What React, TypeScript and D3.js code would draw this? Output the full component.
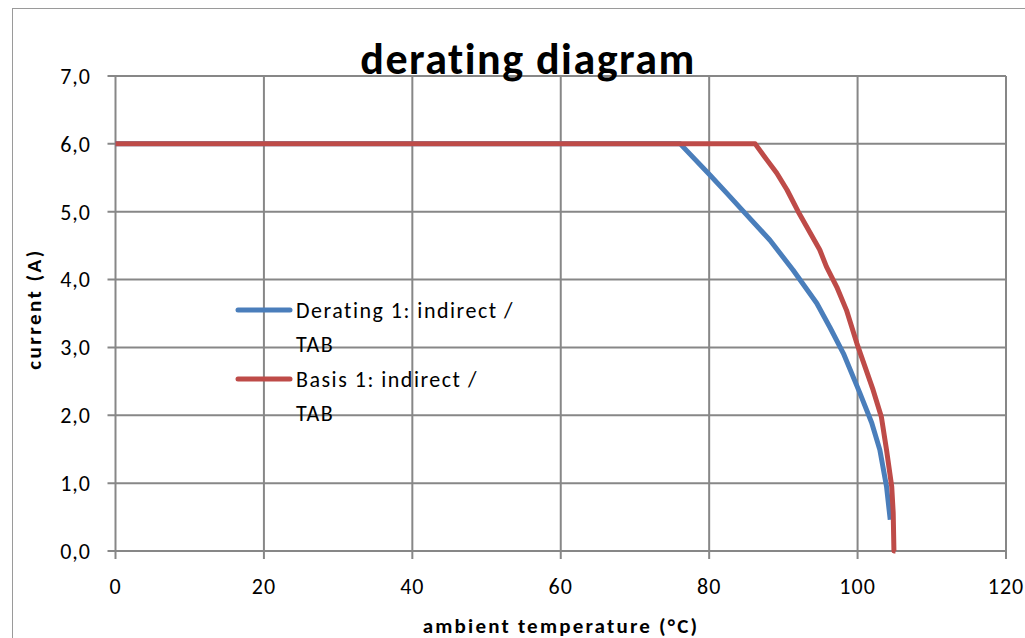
import { useEffect, useRef } from 'react';
import * as d3 from 'd3';

// Derating 1: indirect / TAB  (temperature °C, current A)
const deratingTemp = [0, 76.1, 80.1, 82.4, 84.4, 88.2, 91.3, 94.5, 96.3, 98.1, 100.3, 101.9, 103.0, 103.9, 104.4];
const deratingCurrent = [6.0, 6.0, 5.54, 5.27, 5.03, 4.58, 4.14, 3.65, 3.29, 2.91, 2.33, 1.89, 1.49, 0.95, 0.46];

// Basis 1: indirect / TAB
const basisTemp = [0, 86.2, 87.8, 89.1, 90.5, 92.0, 94.9, 95.8, 97.2, 98.5, 99.9, 102.1, 103.2, 103.9, 104.6, 104.8, 104.9, 105.1];
const basisCurrent = [6.0, 6.0, 5.76, 5.57, 5.32, 5.0, 4.44, 4.19, 3.89, 3.55, 3.06, 2.37, 1.98, 1.49, 0.95, 0.56, 0.0, 0.0];

const xTicks = [0, 20, 40, 60, 80, 100, 120];
const yTicks = [0, 1, 2, 3, 4, 5, 6, 7];

const seriesNames = ['Derating 1: indirect /', 'Basis 1: indirect /'];
const seriesColors = ['#4a7ebb', '#be4b48'];

const App = () => {
  const svgRef = useRef<SVGSVGElement>(null);

  useEffect(() => {
    if (!svgRef.current) return;
    const svg = d3.select(svgRef.current);
    svg.selectAll('*').remove();

    const width = 1025;
    const height = 638;
    const font = "Carlito, 'Open Sans', 'Liberation Sans', sans-serif";

    const x = d3.scaleLinear().domain([0, 120]).range([115.5, 1006]);
    const y = d3.scaleLinear().domain([0, 7]).range([551, 76]);

    svg.attr('width', width).attr('height', height);

    svg.append('rect').attr('width', width).attr('height', height).attr('fill', '#fff');

    // chart frame
    svg.append('rect')
      .attr('x', 12.5).attr('y', 8.5)
      .attr('width', 1030).attr('height', 650)
      .attr('fill', 'none').attr('stroke', '#9a9a9a').attr('stroke-width', 1);

    const gridColor = '#878787';

    // horizontal grid + ticks
    svg.append('g').selectAll('line')
      .data(yTicks)
      .join('line')
      .attr('x1', x(0) - 8).attr('x2', x(120))
      .attr('y1', d => y(d)).attr('y2', d => y(d))
      .attr('stroke', gridColor).attr('stroke-width', 2);

    // vertical grid + ticks
    svg.append('g').selectAll('line')
      .data(xTicks)
      .join('line')
      .attr('x1', d => x(d)).attr('x2', d => x(d))
      .attr('y1', y(7)).attr('y2', y(0) + 8)
      .attr('stroke', gridColor).attr('stroke-width', 2);

    // y tick labels
    svg.append('g').selectAll('text')
      .data(yTicks)
      .join('text')
      .attr('x', 91).attr('y', d => y(d))
      .attr('dy', '0.36em')
      .attr('text-anchor', 'end')
      .attr('font-family', font).attr('font-size', 22).attr('letter-spacing', 1)
      .text(d => d3.format('.1f')(d).replace('.', ','));

    // x tick labels
    svg.append('g').selectAll('text')
      .data(xTicks)
      .join('text')
      .attr('x', d => x(d)).attr('y', 594)
      .attr('text-anchor', 'middle')
      .attr('font-family', font).attr('font-size', 22).attr('letter-spacing', 1)
      .text(d => String(d));

    // lines
    const line = d3.line<[number, number]>()
      .x(d => x(d[0]))
      .y(d => y(d[1]));

    const series: [number, number][][] = [
      deratingTemp.map((t, i) => [t, deratingCurrent[i]]),
      basisTemp.map((t, i) => [t, basisCurrent[i]]),
    ];

    series.forEach((pts, i) => {
      svg.append('path')
        .datum(pts)
        .attr('d', line)
        .attr('fill', 'none')
        .attr('stroke', seriesColors[i])
        .attr('stroke-width', 5)
        .attr('stroke-linejoin', 'round');
    });

    // legend
    const legendY = [310, 379];
    seriesNames.forEach((name, i) => {
      svg.append('line')
        .attr('x1', 238).attr('x2', 290)
        .attr('y1', legendY[i]).attr('y2', legendY[i])
        .attr('stroke', seriesColors[i]).attr('stroke-width', 5)
        .attr('stroke-linecap', 'round');
      svg.append('text')
        .attr('x', 296).attr('y', legendY[i] + 8)
        .attr('font-family', font).attr('font-size', 22).attr('letter-spacing', 1.5)
        .text(name);
      svg.append('text')
        .attr('x', 296).attr('y', legendY[i] + 42)
        .attr('font-family', font).attr('font-size', 22).attr('letter-spacing', 1.5)
        .text('TAB');
    });

    // title
    svg.append('text')
      .attr('x', 528).attr('y', 74)
      .attr('text-anchor', 'middle')
      .attr('font-family', font).attr('font-size', 44).attr('font-weight', 'bold')
      .attr('letter-spacing', 1.5)
      .text('derating diagram');

    // axis titles
    svg.append('text')
      .attr('transform', `translate(41,309) rotate(-90)`)
      .attr('text-anchor', 'middle')
      .attr('font-family', font).attr('font-size', 21).attr('font-weight', 'bold')
      .attr('letter-spacing', 2.5)
      .text('current (A)');

    svg.append('text')
      .attr('x', 561).attr('y', 633)
      .attr('text-anchor', 'middle')
      .attr('font-family', font).attr('font-size', 21).attr('font-weight', 'bold')
      .attr('letter-spacing', 2.2)
      .text('ambient temperature (°C)');
  }, []);

  return (
    <div style={{ position: 'absolute', left: 0, top: 0 }}>
      <svg ref={svgRef}></svg>
    </div>
  );
};

export default App;
